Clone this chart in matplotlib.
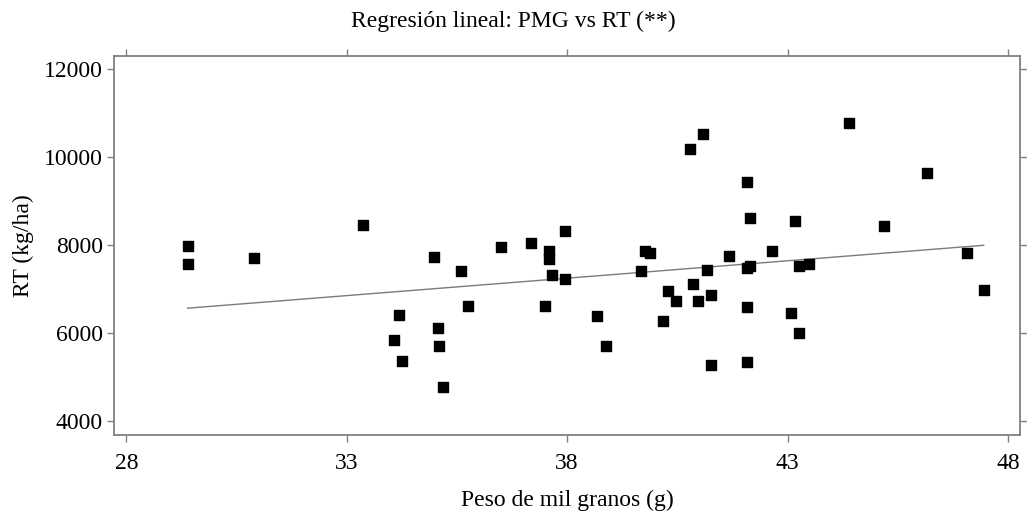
import numpy as np
import matplotlib
matplotlib.use("Agg")
import matplotlib.pyplot as plt

# Peso de mil granos (g) y rendimiento (kg/ha)
pmg = [29.39, 29.39, 30.89, 33.36, 34.99, 35.59, 36.49, 37.18, 37.58, 37.58,
       37.66, 37.50, 35.76, 34.19, 34.08, 34.26, 35.08, 35.09, 35.18, 37.96,
       37.96, 38.68, 38.88, 39.76, 39.87, 39.67, 40.29, 40.46, 40.17, 40.86,
       40.97, 41.18, 41.26, 41.26, 41.67, 42.09, 42.16, 42.09, 42.09, 42.65,
       43.09, 43.27, 43.26, 43.48, 47.07, 47.45, 41.08, 40.78, 44.39, 42.09,
       46.16, 42.15, 43.17, 45.18]
rt = [7970, 7580, 7700, 8450, 7730, 7415, 7955, 8045, 7870, 7680,
      7325, 6625, 6605, 6400, 5850, 5355, 6115, 5705, 4765, 8320,
      7235, 6385, 5705, 7875, 7825, 7400, 6955, 6735, 6280, 7115,
      6735, 7425, 6870, 5280, 7755, 7490, 7530, 6590, 5350, 7865,
      6445, 6000, 7530, 7580, 7825, 6990, 10535, 10195, 10775, 9425,
      9645, 8615, 8550, 8425]

# recta de regresión (ordenada y pendiente)
intercept = 4238
slope = 79.2

x_ticks = [28, 33, 38, 43, 48]
y_ticks = [4000, 6000, 8000, 10000, 12000]

plt.rcParams['font.family'] = ['Liberation Serif', 'DejaVu Serif']
plt.rcParams['font.size'] = 17

fig = plt.figure(figsize=(10.27, 5.16), dpi=100)
ax = fig.add_axes([0.111, 0.157, 0.882, 0.734])

x_line = np.array([min(pmg), max(pmg)])
ax.plot(x_line, intercept + slope * x_line, color='#7a7a7a', lw=1.0, zorder=2)
ax.scatter(pmg, rt, marker='s', s=52, color='black', zorder=3)

ax.set_xlim(27.72, 48.27)
ax.set_ylim(3682, 12295)
ax.set_xticks(x_ticks)
ax.set_yticks(y_ticks)

for s in ax.spines.values():
    s.set_color('#808080')
    s.set_linewidth(1.3)
ax.tick_params(direction='out', length=5, width=1, color='#808080',
               top=True, right=True, labeltop=False, labelright=False,
               labelsize=17)
ax.tick_params(axis='x', pad=8)
ax.tick_params(axis='y', pad=3)

ax.set_xlabel('Peso de mil granos (g)', fontsize=17, labelpad=11)
ax.set_ylabel('RT (kg/ha)', fontsize=17, labelpad=7)
fig.text(0.5, 0.958, 'Regresión lineal: PMG vs RT (**)', ha='center', va='center',
         fontsize=17)

fig.savefig('out.png', dpi=100)
